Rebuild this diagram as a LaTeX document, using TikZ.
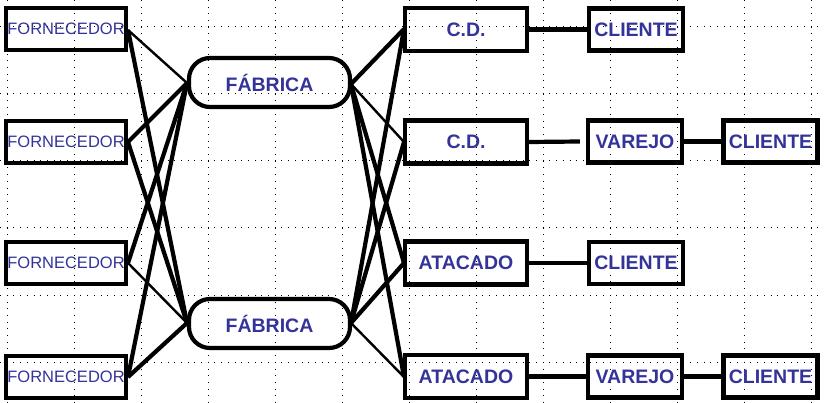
\documentclass[tikz,border=0pt]{standalone}
\usepackage{fontspec}
\setmainfont{Liberation Sans}
\definecolor{lblue}{RGB}{51,51,153}
\begin{document}
\begin{tikzpicture}[x=1pt,y=-1pt,
  box/.style={draw=black,line width=4.2pt,inner sep=0pt,text=lblue,
    font=\fontsize{19.5}{21}\selectfont\bfseries},
  fbox/.style={box,minimum width=120pt,minimum height=42pt,font=\fontsize{16.5}{18}\selectfont},
  wbox/.style={box,minimum width=122pt,minimum height=43pt},
  sbox/.style={box,minimum width=94pt,minimum height=42pt},
  fab/.style={box,rounded corners=21pt,minimum width=161pt,minimum height=49pt},
  thk/.style={line width=4.2pt},
  thn/.style={line width=2.4pt},
  gridl/.style={line width=1pt,dash pattern=on 1pt off 5.7pt}
]
\useasboundingbox (0,0) rectangle (824,403);
\fill[white] (0,0) rectangle (824,403);
% dotted grid
\foreach \gx in {7,74,141,208,275,342,409,476,543,610,677,744,811}
  \draw[gridl] (\gx,0) -- (\gx,403);
\foreach \gy in {27,94,161,228,295,362}
  \draw[gridl] (0,\gy) -- (824,\gy);

% connector end points
\coordinate (f1) at (128,30);
\coordinate (f2) at (128,142);
\coordinate (f3) at (128,263);
\coordinate (f4) at (128,377);
\coordinate (a1) at (187,83);
\coordinate (a2) at (187,323);
\coordinate (b1) at (351,84);
\coordinate (b2) at (351,323);
\coordinate (c1) at (404,29);
\coordinate (c2) at (404,142);
\coordinate (c3) at (404,263);
\coordinate (c4) at (404,377);

\draw[thn] (f1) -- (a1);
\draw[thk] (f1) -- (a2);
\draw[thk] (f2) -- (a1);
\draw[thk] (f2) -- (a2);
\draw[thk] (f3) -- (a1);
\draw[thn] (f3) -- (a2);
\draw[thk] (f4) -- (a1);
\draw[thk] (f4) -- (a2);

\draw[thk] (b1) -- (c1);
\draw[thn] (b1) -- (c2);
\draw[thk] (b1) -- (c3);
\draw[thk] (b1) -- (c4);
\draw[thk] (b2) -- (c1);
\draw[thk] (b2) -- (c2);
\draw[thk] (b2) -- (c3);
\draw[thn] (b2) -- (c4);

% nodes
\node[fbox] (forn1) at (66,29) {FORNECEDOR};
\node[fbox] (forn2) at (66,142) {FORNECEDOR};
\node[fbox] (forn3) at (66,263) {FORNECEDOR};
\node[fbox] (forn4) at (66,377) {FORNECEDOR};

\node[fab] (fab1) at (269.5,82.5) {FÁBRICA};
\node[fab] (fab2) at (269.5,323.5) {FÁBRICA};

\node[wbox] (cd1) at (466,29.5) {C.D.};
\node[wbox] (cd2) at (466,142) {C.D.};
\node[wbox] (at1) at (466,263) {ATACADO};
\node[wbox] (at2) at (466,376.5) {ATACADO};

\node[sbox] (cl1) at (636,29.5) {CLIENTE};
\node[sbox] (va2) at (635,141.5) {VAREJO};
\node[sbox] (cl2) at (770.5,141.5) {CLIENTE};
\node[sbox] (cl3) at (636,263) {CLIENTE};
\node[sbox] (va4) at (635,376.5) {VAREJO};
\node[sbox] (cl4) at (770.5,376.5) {CLIENTE};

\draw[thk] (cd1.east) -- (cl1.west);
\draw[thk] (cd2.east) -- ([xshift=-6pt]va2.west);
\draw[thk] (va2.east) -- (cl2.west);
\draw[thk] (at1.east) -- (cl3.west);
\draw[thk] (at2.east) -- (va4.west);
\draw[thk] (va4.east) -- (cl4.west);
\end{tikzpicture}
\end{document}
